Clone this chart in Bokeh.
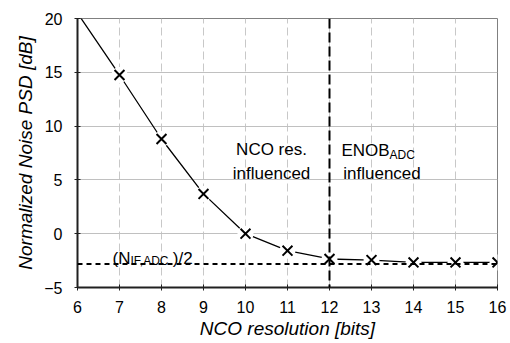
from bokeh.plotting import figure
from bokeh.models import Span, Label, FixedTicker
from bokeh.embed import file_html
from bokeh.resources import INLINE

# Data
line_bits = [6, 7, 8, 9, 10, 11, 12, 13, 14, 15, 16]
line_psd = [20.5, 14.75, 8.8, 3.7, 0.0, -1.58, -2.35, -2.45, -2.67, -2.67, -2.67]
marker_bits = [7, 8, 9, 10, 11, 12, 13, 14, 15, 16]
marker_psd = [14.75, 8.8, 3.7, 0.0, -1.58, -2.35, -2.45, -2.67, -2.67, -2.67]
x_ticks = [6, 7, 8, 9, 10, 11, 12, 13, 14, 15, 16]
y_ticks = [-5, 0, 5, 10, 15, 20]
floor_level = -2.82
boundary_bits = 12

FONT = "Liberation Sans"

p = figure(width=510, height=343, output_backend="svg", toolbar_location=None,
           x_range=(6, 16), y_range=(-5, 20),
           min_border_left=77, min_border_right=13, min_border_top=18, min_border_bottom=56)
p.background_fill_color = "white"
p.border_fill_color = "white"
p.outline_line_color = "#808080"
p.outline_line_width = 1

# grids
p.ygrid.grid_line_color = "#c0c0c0"
p.ygrid.grid_line_width = 1
p.xgrid.grid_line_color = "#c8c8c8"
p.xgrid.grid_line_dash = "8 4"
p.xgrid.grid_line_width = 1

for ax in (p.xaxis[0], p.yaxis[0]):
    ax.axis_line_color = "#202020"
    ax.axis_line_width = 2
    ax.major_tick_line_color = "#202020"
    ax.major_tick_in = 3
    ax.major_tick_out = 3
    ax.minor_tick_line_color = None
    ax.major_label_text_font = FONT
    ax.major_label_text_font_size = "16px"
    ax.major_label_text_color = "black"
    ax.axis_label_text_font = FONT
    ax.axis_label_text_font_size = "19px"
    ax.axis_label_text_font_style = "italic"
    ax.axis_label_text_color = "black"

p.xaxis.ticker = FixedTicker(ticks=x_ticks)
p.yaxis.ticker = FixedTicker(ticks=y_ticks)
p.xaxis.axis_label = "NCO resolution [bits]"
p.yaxis.axis_label = "Normalized Noise PSD [dB]"
p.xaxis.major_label_standoff = 10
p.yaxis.major_label_standoff = 12
p.xaxis.axis_label_standoff = 2
p.yaxis.axis_label_standoff = 5

# curve
p.line(line_bits, line_psd, line_color="black", line_width=1.3)
# gaps around markers
p.scatter(marker_bits, marker_psd, marker="circle", size=16, fill_color="white", line_color=None)

# floor and boundary lines
p.add_layout(Span(location=floor_level, dimension="width", line_color="black",
                  line_width=2, line_dash="5 4"))
p.add_layout(Span(location=boundary_bits, dimension="height", line_color="black",
                  line_width=2, line_dash="10 4"))

p.scatter(marker_bits, marker_psd, marker="x", size=14, line_color="black", line_width=2)

def lab(x, y, text, size, align="left"):
    p.add_layout(Label(x=x, y=y, text=text, text_font=FONT, text_font_size=size,
                       text_align=align, text_baseline="alphabetic", text_color="black"))

lab(10.62, 7.81, "NCO res.", "17px", "center")
lab(10.62, 5.58, "influenced", "17px", "center")
lab(13.43, 7.72, "ENOB", "17px", "right")
lab(13.43, 7.30, "ADC", "12px", "left")
lab(13.25, 5.58, "influenced", "17px", "center")
lab(7.262, -2.30, "(N", "17px", "right")
lab(7.262, -2.50, "IF,ADC", "12px", "left")
lab(8.27, -2.30, ")/2", "17px", "left")

open("out.html", "w").write(file_html(p, INLINE))
